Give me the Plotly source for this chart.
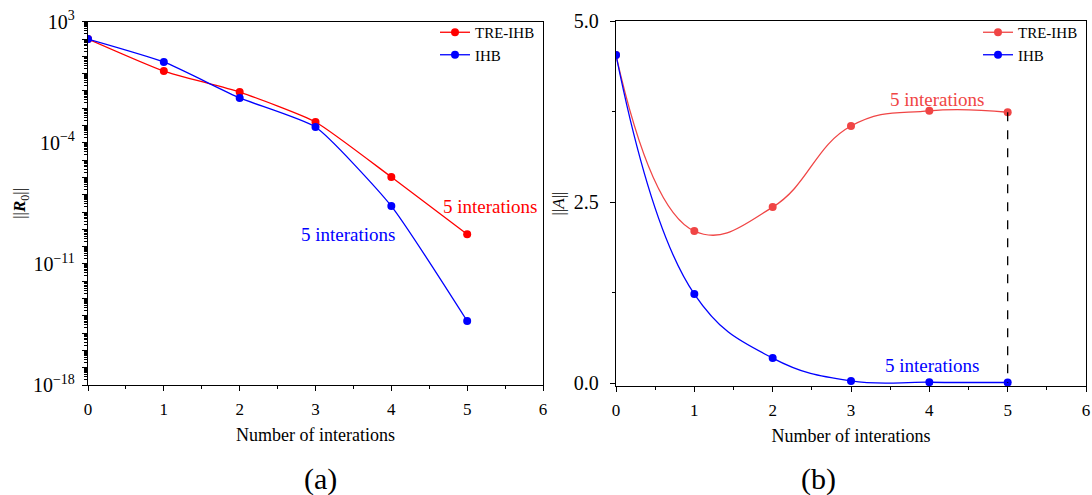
import plotly.graph_objects as go
import numpy as np

iters = [0, 1, 2, 3, 4, 5]
# panel (a): ||R0|| (log scale)
r0_tre = [1.0e2, 1.4e0, 8.5e-2, 1.6e-3, 1.05e-6, 5.2e-10]
r0_ihb = [1.0e2, 4.7e0, 3.9e-2, 8.1e-4, 2.2e-8, 5.0e-15]
# panel (b): ||A||
a_tre = [4.53, 2.10, 2.43, 3.55, 3.76, 3.74]
a_ihb = [4.53, 1.23, 0.345, 0.03, 0.012, 0.008]

left_ticks_exp = [3, -4, -11, -18]

FAM = "Liberation Serif"
RED = "#FF0000"
RED2 = "#F04545"
BLUE = "#0000FF"


def F(size, color="black"):
    return dict(family=FAM, size=size, color=color)


fig = go.Figure()

fig.add_trace(go.Scatter(x=iters, y=r0_tre, mode="lines+markers", name="TRE-IHB",
                         line=dict(color=RED, width=1.3, shape="spline", smoothing=0.5),
                         marker=dict(size=8, color=RED), xaxis="x", yaxis="y", legend="legend"))
fig.add_trace(go.Scatter(x=iters, y=r0_ihb, mode="lines+markers", name="IHB",
                         line=dict(color=BLUE, width=1.3, shape="spline", smoothing=0.5),
                         marker=dict(size=8, color=BLUE), xaxis="x", yaxis="y", legend="legend"))
fig.add_trace(go.Scatter(x=iters, y=a_tre, mode="lines+markers", name="TRE-IHB",
                         line=dict(color=RED2, width=1.3, shape="spline", smoothing=1.25),
                         marker=dict(size=8, color=RED2), xaxis="x2", yaxis="y2", legend="legend2"))
fig.add_trace(go.Scatter(x=iters, y=a_ihb, mode="lines+markers", name="IHB",
                         line=dict(color=BLUE, width=1.3, shape="spline", smoothing=1.2),
                         marker=dict(size=8, color=BLUE), xaxis="x2", yaxis="y2", legend="legend2"))
# dashed vertical at last iteration
fig.add_trace(go.Scatter(x=[iters[-1], iters[-1]], y=[a_tre[-1], 0], mode="lines",
                         line=dict(color="black", width=1.3, dash="dash"), showlegend=False,
                         xaxis="x2", yaxis="y2"))

dom_y = [1 - 385 / 495, 1 - 21.7 / 495]
dom_y2 = [1 - 386 / 495, 1 - 21 / 495]

axis_common = dict(showline=True, linecolor="black", linewidth=1.3, mirror=True,
                   ticks="outside", ticklen=5, tickwidth=1.3, tickcolor="black",
                   showgrid=False, zeroline=False, automargin=False)

minor_log = [m * 10.0 ** e for e in range(-18, 3) for m in range(2, 10)]

fig.update_layout(
    width=1092, height=495, margin=dict(l=0, r=0, t=0, b=0, pad=0, autoexpand=False),
    paper_bgcolor="white", plot_bgcolor="white",
    font=F(16),
    xaxis=dict(domain=[88 / 1092, 543 / 1092], range=[0, 6], anchor="y",
               tickvals=iters + [6], tickfont=F(17), ticklabelstandoff=3,
               minor=dict(dtick=0.5, ticks="outside", ticklen=3, tickcolor="black"),
               title=dict(text="Number of interations", font=F(18), standoff=10),
               **axis_common),
    yaxis=dict(domain=dom_y, type="log", range=[-18, 3], anchor="x",
               tickvals=[10.0 ** e for e in range(-18, 4)],
               ticktext=[("10<sup>%s</sup>" % (str(e).replace("-", "−")) if e in left_ticks_exp else "")
                         for e in range(-18, 4)],
               tickfont=F(20), ticklabelstandoff=3,
               minor=dict(tickvals=minor_log, ticks="outside", ticklen=2.5, tickcolor="black"),
               title=dict(text="||<b><i>R</i></b><sub>0</sub>||", font=F(17), standoff=2),
               **axis_common),
    xaxis2=dict(domain=[616 / 1092, 1086 / 1092], range=[0, 6], anchor="y2",
                tickvals=iters + [6], tickfont=F(17), ticklabelstandoff=3,
                minor=dict(dtick=0.5, ticks="outside", ticklen=3, tickcolor="black"),
                title=dict(text="Number of interations", font=F(18), standoff=10),
                **axis_common),
    yaxis2=dict(domain=dom_y2, range=[-0.04, 5], anchor="x2",
                tickvals=[0, 2.5, 5], ticktext=["0.0", "2.5", "5.0"], tickfont=F(20),
                ticklabelstandoff=7,
                minor=dict(tickvals=[1.25, 3.75], ticks="outside", ticklen=3, tickcolor="black"),
                title=dict(text="||<i>A</i>||", font=F(17), standoff=4),
                **axis_common),
    legend=dict(x=540 / 1092, y=1 - 16 / 495, xanchor="right", yanchor="top",
                bgcolor="rgba(0,0,0,0)", font=F(15), itemwidth=30),
    legend2=dict(x=1083 / 1092, y=1 - 16 / 495, xanchor="right", yanchor="top",
                 bgcolor="rgba(0,0,0,0)", font=F(15), itemwidth=30),
    annotations=[
        dict(text="5 interations", x=5.3, y=np.log10(r0_tre[-1]) + 1.6, xref="x", yref="y",
             showarrow=False, font=F(19, RED), xanchor="center"),
        dict(text="5 interations", x=3.43, y=np.log10(r0_ihb[-1]) + 5.0, xref="x", yref="y",
             showarrow=False, font=F(19, BLUE), xanchor="center"),
        dict(text="5 interations", x=4.1, y=a_tre[-1] + 0.17, xref="x2", yref="y2",
             showarrow=False, font=F(19, RED2)),
        dict(text="5 interations", x=4.03, y=0.25, xref="x2", yref="y2",
             showarrow=False, font=F(19, BLUE)),
        dict(text="(a)", x=302 / 1092, y=1 - 479 / 495, xref="paper", yref="paper",
             yanchor="middle", showarrow=False, font=F(30)),
        dict(text="(b)", x=838 / 1092, y=1 - 479 / 495, xref="paper", yref="paper",
             yanchor="middle", showarrow=False, font=F(30)),
    ],
)

fig.write_html("out.html")
